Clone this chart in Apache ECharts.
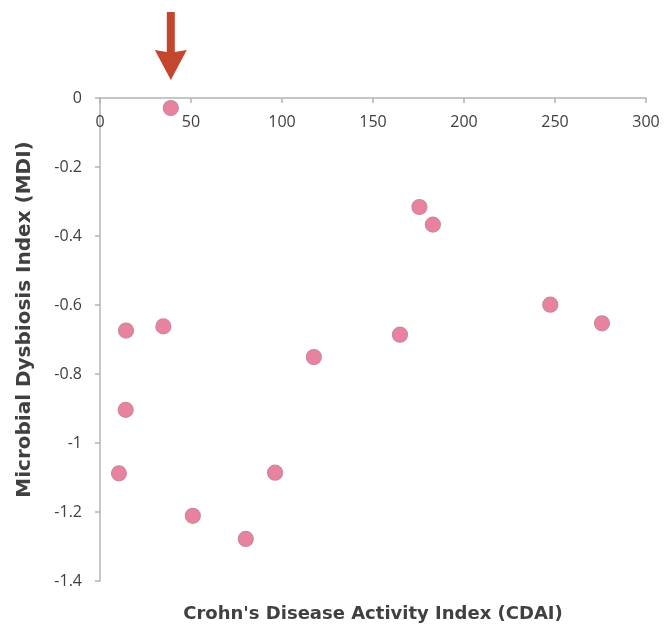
<!DOCTYPE html>
<html>
<head>
<meta charset="utf-8">
<script src="https://cdn.jsdelivr.net/npm/echarts@6/dist/echarts.min.js"></script>
<style>
html,body{margin:0;padding:0;background:#fff;}
#chart{width:671px;height:626px;}
</style>
</head>
<body>
<div id="chart"></div>
<script>
// Data
var cdai = [38.9, 14.3, 34.8, 14.1, 10.4, 96.2, 51.0, 80.1, 175.5, 182.9, 164.8, 117.5, 247.4, 275.8];
var mdi  = [-0.029, -0.674, -0.662, -0.904, -1.088, -1.086, -1.211, -1.278, -0.316, -0.367, -0.686, -0.751, -0.599, -0.653];
var xTitle = "Crohn's Disease Activity Index (CDAI)";
var yTitle = "Microbial Dysbiosis Index (MDI)";
var highlightIndex = 0; // point marked by the arrow

var points = cdai.map(function (x, i) { return [x, mdi[i]]; });

var chart = echarts.init(document.getElementById('chart'));
var font = 'Open Sans';
var titleFont = 'DejaVu Sans';
var axisGray = '#b4b4b4';
var textGray = '#404040';

chart.setOption({
  animation: false,
  backgroundColor: '#ffffff',
  grid: { left: 100, right: 25, top: 98, bottom: 45, containLabel: false, outerBoundsMode: 'none' },
  xAxis: [{
    type: 'value',
    position: 'top',
    min: 0, max: 300, interval: 50,
    axisLine: { show: true, lineStyle: { color: axisGray, width: 1.5 } },
    axisTick: { show: true, inside: true, length: 5, lineStyle: { color: axisGray, width: 1.5 } },
    axisLabel: { inside: true, margin: 16, color: textGray, fontSize: 16, fontFamily: font },
    splitLine: { show: false }
  }, {
    type: 'value',
    position: 'bottom',
    min: 0, max: 1,
    axisLine: { show: false }, axisTick: { show: false }, axisLabel: { show: false },
    splitLine: { show: false },
    name: xTitle,
    nameLocation: 'middle',
    nameGap: 24,
    nameTextStyle: { color: textGray, fontSize: 18, fontWeight: 'bold', fontFamily: titleFont }
  }],
  yAxis: {
    type: 'value',
    min: -1.4, max: 0, interval: 0.2,
    axisLine: { show: true, onZero: false, lineStyle: { color: axisGray, width: 1.5 } },
    axisTick: { show: true, length: 5, lineStyle: { color: axisGray, width: 1.5 } },
    axisLabel: { margin: 18, color: textGray, fontSize: 16, fontFamily: font,
      formatter: function (v) { return String(Math.round(v * 10) / 10); } },
    splitLine: { show: false },
    name: yTitle,
    nameLocation: 'middle',
    nameGap: 65,
    nameTextStyle: { color: textGray, fontSize: 20, fontWeight: 'bold', fontFamily: titleFont, padding: [0, 0, 0, 40] }
  },
  series: [{
    type: 'scatter',
    xAxisIndex: 0,
    data: points,
    symbolSize: 15,
    itemStyle: { color: '#e8829f', borderColor: '#c98a9b', borderWidth: 1.2, opacity: 1 }
  }]
});

// Arrow annotation pointing at the highlighted point, positioned via the axes
var p = chart.convertToPixel({ xAxisIndex: 0, yAxisIndex: 0 }, [cdai[highlightIndex], 0]);
var cx = p[0], tipY = p[1] - 18;
chart.setOption({
  graphic: [{
    type: 'polygon',
    shape: { points: [
      [cx - 4, tipY - 68], [cx + 4, tipY - 68], [cx + 4, tipY - 28],
      [cx + 16, tipY - 30], [cx, tipY], [cx - 16, tipY - 30], [cx - 4, tipY - 28]
    ] },
    style: { fill: '#c2472e' }
  }]
});
</script>
</body>
</html>
